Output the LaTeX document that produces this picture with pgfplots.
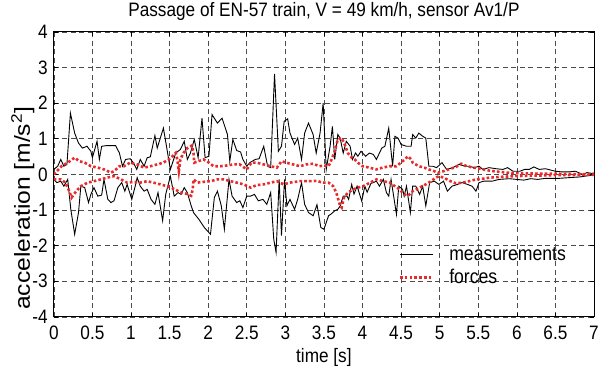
\documentclass[border=0pt]{standalone}
\usepackage{fontspec}
\setmainfont{Liberation Sans}[FakeStretch=0.885]
\newfontfamily\ylfont{Liberation Sans}
\usepackage{graphicx}
\usepackage{pgfplots}
\pgfplotsset{compat=1.18}
\definecolor{fred}{RGB}{232,42,42}
\pgfplotstableread{
t a
0.00 0.14
0.05 0.23
0.09 0.42
0.13 0.23
0.17 0.28
0.215 1.72
0.27 1.16
0.32 0.88
0.37 0.74
0.43 0.79
0.48 0.65
0.50 0.47
0.56 0.93
0.59 0.42
0.62 0.79
0.69 0.81
0.80 0.81
0.85 0.60
0.89 0.23
0.93 0.42
0.99 0.44
1.03 0.33
1.075 0.14
1.12 0.42
1.17 0.23
1.21 0.47
1.25 0.49
1.31 1.09
1.34 0.74
1.42 1.30
1.46 0.79
1.51 0.14
1.58 0.60
1.64 0.70
1.69 0.93
1.73 0.42
1.77 0.60
1.82 0.98
1.87 0.47
1.92 1.58
1.96 0.47
2.01 0.51
2.05 1.68
2.12 1.44
2.18 1.58
2.25 1.12
2.28 0.37
2.32 0.98
2.37 0.67
2.42 0.63
2.45 0.42
2.50 0.23
2.54 0.33
2.61 0.42
2.66 0.44
2.72 0.79
2.77 0.23
2.81 0.19
2.86 2.82
2.91 0.65
2.95 0.79
2.985 1.49
3.03 1.56
3.06 1.16
3.12 0.84
3.16 1.02
3.21 0.42
3.25 1.16
3.30 1.44
3.36 1.12
3.40 0.60
3.45 1.16
3.49 2.00
3.53 0.14
3.58 0.79
3.61 1.35
3.64 0.42
3.68 1.12
3.71 1.02
3.75 0.60
3.79 0.93
3.84 0.79
3.87 0.42
3.91 0.60
3.94 0.51
3.98 0.65
4.04 0.51
4.09 0.60
4.14 0.56
4.18 0.42
4.25 0.74
4.29 0.79
4.34 1.30
4.39 0.23
4.42 1.07
4.46 1.02
4.50 0.84
4.57 0.79
4.63 0.79
4.65 1.12
4.69 1.02
4.73 1.16
4.78 1.07
4.82 1.02
4.86 0.23
4.91 0.23
4.96 0.19
5.03 0.33
5.09 0.14
5.17 0.19
5.25 0.28
5.33 0.23
5.38 0.23
5.45 0.19
5.51 0.23
5.56 0.14
5.64 0.19
5.73 0.16
5.82 0.14
5.88 0.19
5.95 0.09
6.04 0.09
6.10 0.14
6.16 0.14
6.22 0.21
6.29 0.14
6.37 0.16
6.46 0.11
6.50 0.09
6.59 0.07
6.67 0.07
6.76 0.09
6.80 0.05
6.85 0.00
6.91 0.05
6.97 0.03
7.00 0.04
}\measup
\pgfplotstableread{
t a
0.00 -0.14
0.04 -0.23
0.09 -0.19
0.13 -0.33
0.18 -0.14
0.22 -0.98
0.27 -1.68
0.32 -1.07
0.35 -0.33
0.40 -0.37
0.45 -0.79
0.48 -0.56
0.52 -0.37
0.57 -0.61
0.62 -0.58
0.65 -0.14
0.70 -0.70
0.74 -0.79
0.78 -0.74
0.83 -0.37
0.88 -0.23
0.92 -0.47
0.95 -0.28
1.01 -0.70
1.05 -0.37
1.08 -0.09
1.12 -0.33
1.17 -0.47
1.21 -0.42
1.26 -0.70
1.31 -0.84
1.35 -0.51
1.41 -1.30
1.45 -0.56
1.51 -0.05
1.56 -0.61
1.61 -0.51
1.65 -0.56
1.69 -0.37
1.73 -0.51
1.78 -0.88
1.81 -1.07
1.88 -1.26
1.95 -1.49
2.03 -1.68
2.08 -0.65
2.12 -0.47
2.17 -0.88
2.21 -1.54
2.27 -0.14
2.31 -0.61
2.37 -0.79
2.41 -0.74
2.45 -0.93
2.50 -0.61
2.55 -0.61
2.60 -0.56
2.65 -0.74
2.71 -0.70
2.76 -0.84
2.81 -0.51
2.85 -1.82
2.88 -2.19
2.92 -0.14
2.95 -1.72
2.99 -0.14
3.02 -0.88
3.06 -0.70
3.12 -0.98
3.16 -0.70
3.21 -0.23
3.25 -0.84
3.30 -1.07
3.36 -1.16
3.41 -0.85
3.46 -1.49
3.50 -1.54
3.56 -1.16
3.60 -1.10
3.64 -1.02
3.68 -0.98
3.71 -0.89
3.75 -0.61
3.80 -0.61
3.82 -0.70
3.86 -0.28
3.89 -0.55
3.93 -0.33
3.99 -0.75
4.03 -0.33
4.06 -0.50
4.11 -0.25
4.14 -0.23
4.18 -0.19
4.22 -0.33
4.27 -0.14
4.31 -0.51
4.34 -0.61
4.37 -0.14
4.44 -1.12
4.47 -0.33
4.52 -0.42
4.54 -0.61
4.57 -0.33
4.62 -1.07
4.65 -0.33
4.69 -0.33
4.74 -0.56
4.78 -0.33
4.82 -0.88
4.87 -0.23
4.93 -0.19
4.99 -0.28
5.05 -0.19
5.10 -0.47
5.16 -0.33
5.23 -0.28
5.29 -0.23
5.36 -0.28
5.42 -0.33
5.47 -0.47
5.51 -0.23
5.57 -0.19
5.68 -0.19
5.77 -0.14
5.90 -0.12
6.00 -0.14
6.09 -0.16
6.18 -0.12
6.27 -0.14
6.37 -0.11
6.55 -0.11
6.68 -0.09
6.82 -0.07
6.97 -0.02
7.00 -0.02
}\measlo
\pgfplotstableread{
t a
0.00 0.00
0.04 0.09
0.10 0.23
0.18 0.33
0.27 0.47
0.33 0.37
0.40 0.33
0.48 0.23
0.57 0.19
0.65 0.14
0.74 0.05
0.78 0.09
0.85 0.23
0.91 0.23
0.99 0.33
1.08 0.28
1.17 0.19
1.25 0.23
1.34 0.28
1.42 0.33
1.51 0.45
1.58 0.60
1.60 0.42
1.62 0.09
1.64 0.42
1.68 0.60
1.73 0.74
1.79 0.81
1.81 0.60
1.82 0.33
1.87 0.37
1.94 0.42
2.01 0.33
2.07 0.23
2.16 0.23
2.24 0.25
2.33 0.28
2.41 0.28
2.50 0.14
2.56 0.33
2.63 0.33
2.72 0.28
2.81 0.23
2.89 0.19
2.95 0.37
3.01 0.33
3.10 0.28
3.19 0.23
3.27 0.28
3.36 0.30
3.44 0.23
3.50 0.25
3.56 0.23
3.60 0.42
3.64 0.65
3.68 0.98
3.73 1.02
3.77 0.84
3.81 0.60
3.86 0.47
3.90 0.42
3.94 0.33
4.00 0.23
4.09 0.19
4.18 0.14
4.26 0.19
4.35 0.23
4.44 0.23
4.52 0.37
4.59 0.51
4.63 0.42
4.65 0.33
4.69 0.28
4.73 0.23
4.80 0.19
4.86 0.14
4.93 0.09
4.98 0.05
5.05 0.09
5.14 0.16
5.21 0.21
5.28 0.30
5.35 0.23
5.44 0.19
5.52 0.16
5.61 0.12
5.70 0.09
5.78 0.07
5.87 0.05
5.95 0.04
6.10 0.03
6.30 0.02
6.50 0.02
6.70 0.01
7.00 0.01
}\forup
\pgfplotstableread{
t a
0.00 -0.14
0.09 -0.14
0.15 -0.23
0.19 -0.42
0.23 -0.65
0.29 -0.47
0.35 -0.33
0.44 -0.23
0.52 -0.19
0.61 -0.14
0.69 -0.09
0.78 -0.05
0.87 -0.14
0.95 -0.23
1.04 -0.21
1.12 -0.23
1.21 -0.19
1.29 -0.23
1.38 -0.28
1.47 -0.33
1.55 -0.40
1.64 -0.50
1.73 -0.55
1.78 -0.60
1.80 -0.42
1.81 -0.14
1.86 -0.23
1.94 -0.21
2.03 -0.19
2.12 -0.14
2.20 -0.14
2.29 -0.19
2.37 -0.23
2.46 -0.28
2.55 -0.37
2.63 -0.30
2.72 -0.28
2.81 -0.23
2.89 -0.19
2.98 -0.28
3.06 -0.23
3.19 -0.19
3.32 -0.19
3.41 -0.18
3.45 -0.21
3.50 -0.23
3.56 -0.23
3.62 -0.33
3.66 -0.51
3.71 -0.88
3.73 -0.93
3.76 -0.65
3.81 -0.51
3.88 -0.42
3.94 -0.37
4.01 -0.33
4.10 -0.23
4.18 -0.14
4.27 -0.19
4.35 -0.23
4.42 -0.33
4.48 -0.42
4.54 -0.56
4.59 -0.60
4.65 -0.47
4.74 -0.37
4.82 -0.28
4.89 -0.19
4.95 -0.09
4.99 -0.05
5.05 -0.09
5.14 -0.19
5.21 -0.25
5.30 -0.23
5.38 -0.19
5.47 -0.14
5.56 -0.12
5.65 -0.09
5.78 -0.07
5.95 -0.05
6.10 -0.04
6.30 -0.03
6.50 -0.02
6.70 -0.02
7.00 -0.01
}\forlo
\begin{document}
\begin{tikzpicture}
\begin{axis}[
  scale only axis, width=542bp, height=286bp,
  xmin=0, xmax=7, ymin=-4, ymax=4,
  xtick={0,0.5,...,7}, ytick={-4,-3,...,4},
  grid=major,
  major grid style={dash pattern=on 5bp off 3.5bp, black!70, line width=0.6bp},
  axis line style={line width=0.9bp},
  tick style={black, line width=0.7bp}, major tick length=4bp,
  /pgf/number format/assume math mode=true,
  ticklabel style={font=\fontsize{19.5bp}{22bp}\selectfont},
  xticklabel style={anchor=base, yshift=-23bp, inner sep=0pt},
  yticklabel style={anchor=east, xshift=-6bp, inner sep=0pt},
  title={Passage of EN-57 train, V = 49 km/h, sensor Av1/P},
  title style={at={(axis description cs:0.5,1)}, anchor=base, yshift=9bp, inner sep=0pt, font=\fontsize{19.5bp}{22bp}\selectfont},
  xlabel={time [s]},
  xlabel style={at={(axis description cs:0.5,0)}, anchor=base, yshift=-46bp, inner sep=0pt, font=\fontsize{19.5bp}{22bp}\selectfont},
  ylabel={\scalebox{1}[0.885]{\ylfont\fontsize{24.7bp}{28bp}\selectfont acceleration [m/s\textsuperscript{2}]}},
  ylabel style={at={([xshift=-24bp]axis description cs:0,0.381)}, anchor=base, inner sep=0pt},
  legend style={draw=none, fill=none, at={(axis cs:4.468,-2.03)}, anchor=north west,
    font=\fontsize{20bp}{23bp}\selectfont, inner sep=0pt, row sep=8.6bp, column sep=15bp,
    nodes={inner sep=0pt, text height=14bp, text depth=0bp}},
  legend cell align=left,
  legend image code/.code={\draw[#1] (0bp,-1bp)--(33bp,-1bp);},
]
\addplot[black, line width=0.9bp] table[x=t,y=a] {\measup};
\addlegendentry{measurements}
\addplot[fred, line width=2.6bp, dash pattern=on 2.6bp off 2.2bp, forget plot] table[x=t,y=a] {\forup};
\addplot[black, line width=0.9bp, forget plot] table[x=t,y=a] {\measlo};
\addplot[fred, line width=2.6bp, dash pattern=on 2.6bp off 2.2bp] table[x=t,y=a] {\forlo};
\addlegendentry{forces}
\coordinate (bbSW) at (rel axis cs:0,0);
\coordinate (bbNE) at (rel axis cs:1,1);
\end{axis}
\pgfresetboundingbox
\path[use as bounding box] ([shift={(-54bp,-58bp)}]bbSW) rectangle ([shift={(6bp,32bp)}]bbNE);
\end{tikzpicture}
\end{document}
